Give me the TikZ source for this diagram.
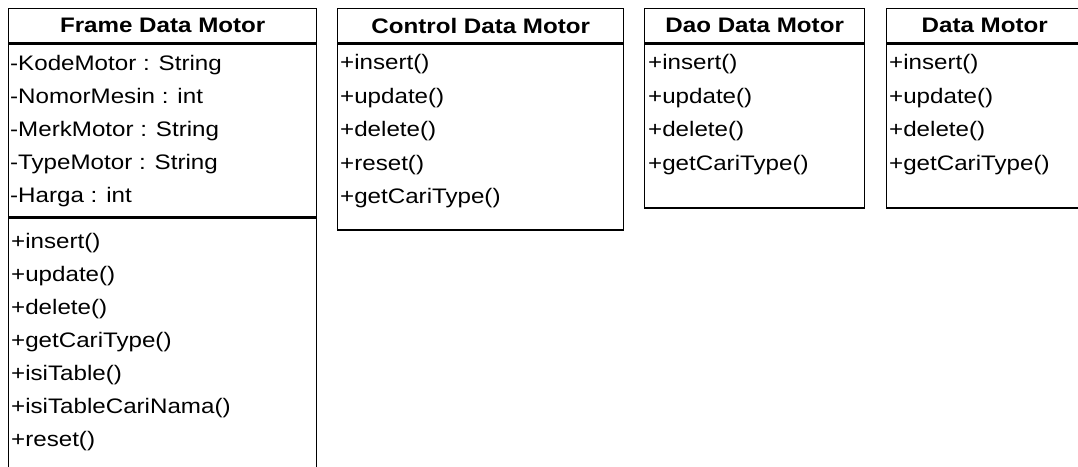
\documentclass[tikz,border=0pt]{standalone}
\usepackage{fontspec}
\setmainfont{Liberation Sans}[FakeStretch=1.15]
\usetikzlibrary{positioning}

\begin{document}
\begin{tikzpicture}[x=1pt, y=1pt,
  classname/.style={draw, line width=1.4pt, minimum height=34pt, inner sep=0pt,
    font=\fontsize{21}{25}\selectfont\bfseries, anchor=north west},
  compartment/.style={draw, line width=1.4pt, inner sep=0pt},
  member/.style={anchor=west, inner sep=0pt, font=\fontsize{21}{25}\selectfont,
    text height=15.75pt, text depth=5.25pt}]

  \useasboundingbox (0,0) rectangle (1078,-466);

  % Frame Data Motor
  \node[classname, minimum width=308pt] (frame) at (8,-8) {Frame Data Motor};
  \node[compartment, minimum width=308pt, minimum height=173pt, below=0pt of frame] (frameattr) {};
  \node[compartment, minimum width=308pt, minimum height=280pt, below=0pt of frameattr] (frameops) {};
  \foreach \m [count=\i] in {-KodeMotor : String, -NomorMesin : int, -MerkMotor : String,
      -TypeMotor : String, -Harga : int}
    \node[member] (frameattr-\i) at ([xshift=2pt, yshift={-22pt-(\i-1)*33pt}]frameattr.north west) {\m};
  \foreach \m [count=\i] in {+insert(), +update(), +delete(), +getCariType(), +isiTable(),
      +isiTableCariNama(), +reset()}
    \node[member] (frameops-\i) at ([xshift=3pt, yshift={-25pt-(\i-1)*33pt}]frameops.north west) {\m};

  % Control Data Motor
  \node[classname, minimum width=286pt] (control) at (337,-8) {Control Data Motor};
  \node[compartment, minimum width=286pt, minimum height=186pt, below=0pt of control] (controlops) {};
  \foreach \m [count=\i] in {+insert(), +update(), +delete(), +reset(), +getCariType()}
    \node[member] (controlops-\i) at ([xshift=3pt, yshift={-21pt-(\i-1)*33.5pt}]controlops.north west) {\m};

  % Dao Data Motor
  \node[classname, minimum width=220pt] (dao) at (644,-8) {Dao Data Motor};
  \node[compartment, minimum width=220pt, minimum height=164pt, below=0pt of dao] (daoops) {};
  \foreach \m [count=\i] in {+insert(), +update(), +delete(), +getCariType()}
    \node[member] (daoops-\i) at ([xshift=4pt, yshift={-21pt-(\i-1)*33.5pt}]daoops.north west) {\m};

  % Data Motor
  \node[classname, minimum width=196pt] (data) at (886,-8) {Data Motor};
  \node[compartment, minimum width=196pt, minimum height=164pt, below=0pt of data] (dataops) {};
  \foreach \m [count=\i] in {+insert(), +update(), +delete(), +getCariType()}
    \node[member] (dataops-\i) at ([xshift=3pt, yshift={-21pt-(\i-1)*33.5pt}]dataops.north west) {\m};
\end{tikzpicture}
\end{document}
